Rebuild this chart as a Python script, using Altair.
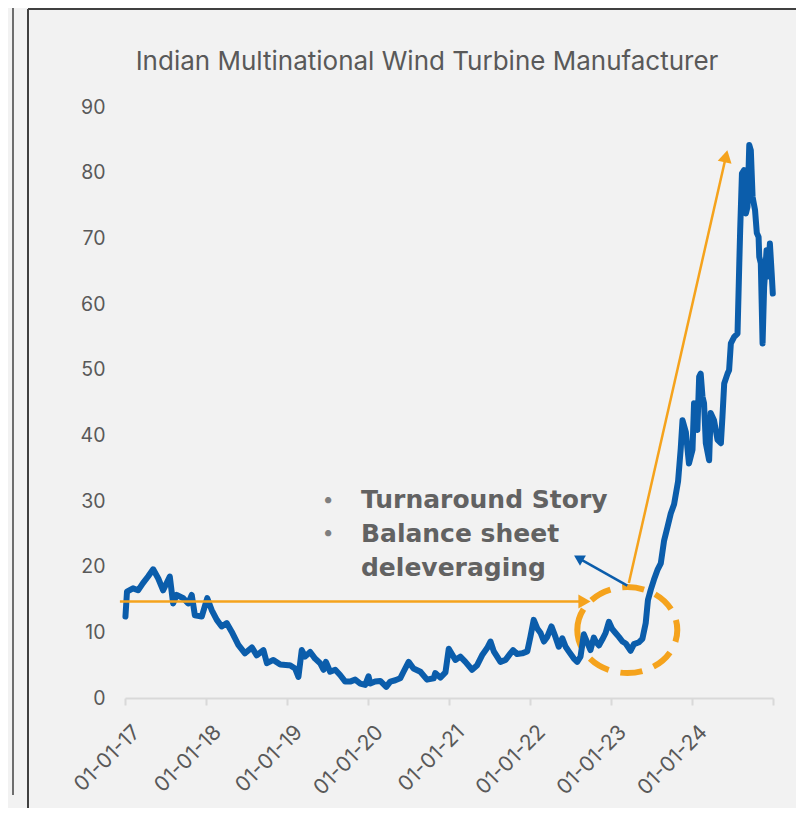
import altair as alt
import pandas as pd

# ---------------- data ----------------
dates = [
    "2017-01-03", "2017-01-10", "2017-02-06", "2017-03-01", "2017-03-23", "2017-04-15",
    "2017-05-08", "2017-05-31", "2017-06-22", "2017-07-22", "2017-08-06", "2017-08-22",
    "2017-09-21", "2017-10-13", "2017-10-29", "2017-11-12", "2017-12-13", "2018-01-07",
    "2018-01-27", "2018-02-19", "2018-03-13", "2018-04-05", "2018-04-27", "2018-05-27",
    "2018-06-26", "2018-07-27", "2018-08-18", "2018-09-17", "2018-10-03", "2018-11-01",
    "2018-12-02", "2019-01-08", "2019-01-15", "2019-02-07", "2019-02-22", "2019-03-09",
    "2019-03-24", "2019-04-16", "2019-05-08", "2019-05-31", "2019-06-15", "2019-06-26",
    "2019-07-15", "2019-08-07", "2019-08-29", "2019-09-21", "2019-10-13", "2019-11-05",
    "2019-11-28", "2019-12-20", "2020-01-04", "2020-01-12", "2020-02-03", "2020-02-26",
    "2020-03-24", "2020-04-11", "2020-05-04", "2020-05-26", "2020-06-10", "2020-07-03",
    "2020-07-25", "2020-08-25", "2020-09-24", "2020-10-24", "2020-10-31", "2020-11-23",
    "2020-12-16", "2020-12-31", "2021-01-30", "2021-02-21", "2021-03-16", "2021-04-15",
    "2021-05-08", "2021-05-30", "2021-06-22", "2021-07-07", "2021-07-22", "2021-08-21",
    "2021-09-13", "2021-10-05", "2021-10-17", "2021-11-04", "2021-11-27", "2021-12-20",
    "2022-01-03", "2022-01-18", "2022-02-03", "2022-02-18", "2022-03-05", "2022-03-20",
    "2022-04-08", "2022-04-26", "2022-05-11", "2022-05-27", "2022-06-11", "2022-06-25",
    "2022-07-18", "2022-08-02", "2022-08-17", "2022-09-01", "2022-09-17", "2022-10-01",
    "2022-10-16", "2022-10-25", "2022-11-08", "2022-11-23", "2022-12-08", "2022-12-23",
    "2023-01-07", "2023-01-22", "2023-02-06", "2023-02-22", "2023-03-09", "2023-03-31",
    "2023-04-15", "2023-05-08", "2023-05-23", "2023-06-07", "2023-06-17", "2023-06-30",
    "2023-07-14", "2023-07-30", "2023-08-14", "2023-08-29", "2023-09-13", "2023-09-28",
    "2023-10-13", "2023-10-31", "2023-11-12", "2023-11-20", "2023-12-05", "2023-12-19",
    "2024-01-04", "2024-01-11", "2024-01-26", "2024-02-03", "2024-02-10", "2024-02-18",
    "2024-02-25", "2024-03-04", "2024-03-19", "2024-03-26", "2024-04-10", "2024-04-26",
    "2024-05-11", "2024-05-18", "2024-05-26", "2024-06-10", "2024-06-17", "2024-06-25",
    "2024-07-10", "2024-07-25", "2024-08-02", "2024-08-06", "2024-08-14", "2024-08-24",
    "2024-09-01", "2024-09-08", "2024-09-16", "2024-09-23", "2024-10-01", "2024-10-12",
    "2024-10-20", "2024-10-28", "2024-10-31", "2024-11-07", "2024-11-15", "2024-11-22",
    "2024-12-03", "2024-12-10", "2024-12-18", "2024-12-26", "2024-12-31",
]
prices = [
    12.4, 16.2, 16.7, 16.4, 17.5, 18.5,
    19.6, 18.2, 16.4, 18.5, 14.4, 15.7,
    15.2, 14.4, 15.7, 12.6, 12.4, 15.2,
    13.4, 11.9, 10.9, 11.4, 10.1, 8.1,
    6.8, 7.7, 6.5, 7.3, 5.3, 5.8,
    5.1, 5.0, 5.0, 4.5, 3.2, 7.3,
    6.3, 7.0, 6.0, 5.3, 4.3, 5.5,
    4.0, 4.3, 3.5, 2.5, 2.5, 2.8,
    2.2, 2.0, 3.3, 2.2, 2.5, 2.6,
    1.7, 2.5, 2.7, 3.0, 4.0, 5.5,
    4.5, 4.0, 2.8, 3.0, 3.8, 3.1,
    3.9, 7.5, 5.8, 6.3, 5.5, 4.3,
    5.0, 6.5, 7.6, 8.6, 7.1, 5.5,
    5.8, 6.8, 7.3, 6.7, 6.8, 7.1,
    9.3, 11.9, 10.6, 9.9, 8.6, 9.3,
    10.9, 9.3, 7.8, 9.1, 7.8, 7.1,
    6.0, 5.5, 6.3, 9.7, 8.4, 7.3,
    9.2, 8.6, 8.0, 8.9, 9.9, 11.6,
    10.5, 9.9, 9.3, 8.6, 8.3, 7.2,
    8.2, 8.5, 9.0, 11.4, 14.9, 16.5,
    18.0, 19.5, 20.5, 24.0, 26.0, 28.1,
    29.5, 33.0, 38.0, 42.3, 40.5, 35.7,
    37.8, 44.9, 40.8, 48.9, 49.4, 45.9,
    44.9, 38.8, 36.2, 43.4, 42.3, 39.3,
    38.8, 42.8, 47.9, 49.4, 49.9, 54.0,
    55.0, 55.5, 66.2, 71.3, 79.9, 80.4,
    73.8, 74.8, 84.2, 83.4, 76.3, 74.3,
    70.8, 70.2, 67.2, 66.2, 54.0, 62.6,
    68.2, 64.2, 69.2, 64.7, 61.6,
]

title_text = "Indian Multinational Wind Turbine Manufacturer"
tick_years = [2017, 2018, 2019, 2020, 2021, 2022, 2023, 2024, 2025]
y_ticks = [0, 10, 20, 30, 40, 50, 60, 70, 80, 90]

# annotation anchors (data coordinates)
note_lines = ["Turnaround Story", "Balance sheet", "deleveraging"]
note_dates = ["2019-12-01", "2019-12-01", "2019-12-01"]
note_values = [28.9, 23.8, 18.6]
bullet_dates = ["2019-07-06", "2019-07-06"]
bullet_values = [30.2, 25.1]

h_arrow = {"d1": "2016-12-09", "d2": "2022-09-04", "v": 14.7}
d_arrow = {"d1": "2023-03-23", "v1": 17.5, "d2": "2024-06-03", "v2": 82.5}
b_arrow = {"d1": "2023-03-16", "v1": 17.1, "d2": "2022-08-08", "v2": 21.3}
ellipse_center = {"d": "2023-03-16", "v": 10.35}

# ---------------- styling ----------------
BLUE = "#0b5dab"
ORANGE = "#f5a31d"
GREY = "#595959"
FONT = "Inter"

x_scale = alt.Scale(
    type="utc",
    domain=[alt.DateTime(year=2017, month=1, date=1, utc=True),
            alt.DateTime(year=2025, month=1, date=1, utc=True)],
)
y_scale = alt.Scale(domain=[0, 90], nice=False)

x_axis = alt.Axis(
    values=[alt.DateTime(year=y, month=1, date=1, utc=True) for y in tick_years],
    labelExpr="utcyear(datum.value) >= 2025 ? '' : utcFormat(datum.value, '%d-%m-%y')",
    labelAngle=-45, labelFontSize=21, labelColor=GREY, labelFont=FONT,
    domainColor="#d9d9d9", domainWidth=2, tickColor="#d9d9d9", tickWidth=2,
    tickSize=7, grid=False, title=None, labelPadding=16, labelOffset=4,
)
y_axis = alt.Axis(
    values=y_ticks, grid=False, domain=False, ticks=False, title=None,
    labelFontSize=19.5, labelColor=GREY, labelFont=FONT, labelPadding=20,
)

df = pd.DataFrame({"date": dates, "price": prices})

line = alt.Chart(df).mark_line(
    color=BLUE, strokeWidth=6, strokeJoin="round", strokeCap="round"
).encode(
    x=alt.X("date:T", scale=x_scale, axis=x_axis),
    y=alt.Y("price:Q", scale=y_scale, axis=y_axis),
)

X = lambda f: alt.X(f, type="temporal", scale=x_scale)
Y = lambda f: alt.Y(f, type="quantitative", scale=y_scale)

ell_df = pd.DataFrame([ellipse_center])
ellipse = alt.Chart(ell_df).mark_point(
    shape="M -1 0 A 1 0.86 0 1 1 1 0 A 1 0.86 0 1 1 -1 0 Z",
    size=10000, filled=False, strokeWidth=6, strokeDash=[22, 12],
    color=ORANGE, opacity=1,
).encode(x=X("d"), y=Y("v"))

h_df = pd.DataFrame([h_arrow])
h_shaft = alt.Chart(h_df).mark_rule(color=ORANGE, strokeWidth=2.5).encode(
    x=X("d1"), x2="d2", y=Y("v"))
h_head = alt.Chart(h_df).mark_point(
    shape="triangle-right", filled=True, size=200, color=ORANGE, opacity=1
).encode(x=X("d2"), y=Y("v"))

d_df = pd.DataFrame([d_arrow])
d_shaft = alt.Chart(d_df).mark_rule(color=ORANGE, strokeWidth=2.5).encode(
    x=X("d1"), x2="d2", y=Y("v1"), y2="v2")
d_head = alt.Chart(d_df).mark_point(
    shape="triangle-up", filled=True, size=200, angle=12.8, color=ORANGE, opacity=1
).encode(x=X("d2"), y=Y("v2"))

b_df = pd.DataFrame([b_arrow])
b_shaft = alt.Chart(b_df).mark_rule(color=BLUE, strokeWidth=2.5).encode(
    x=X("d1"), x2="d2", y=Y("v1"), y2="v2")
b_head = alt.Chart(b_df).mark_point(
    shape="triangle-up", filled=True, size=140, angle=300, color=BLUE, opacity=1
).encode(x=X("d2"), y=Y("v2"))

notes_df = pd.DataFrame({"d": note_dates, "v": note_values, "t": note_lines})
notes = alt.Chart(notes_df).mark_text(
    align="left", baseline="alphabetic", fontSize=25, fontWeight="bold",
    font="DejaVu Sans", color="#626262",
).encode(x=X("d"), y=Y("v"), text="t:N")

bul_df = pd.DataFrame({"d": bullet_dates, "v": bullet_values})
bullets = alt.Chart(bul_df).mark_text(
    align="center", baseline="middle", fontSize=20, font=FONT, color="#7f7f7f",
    text="•",
).encode(x=X("d"), y=Y("v"))

# chart title (placed as text above the plot)
title_df = pd.DataFrame({"t": [title_text]})
title = alt.Chart(title_df).mark_text(
    align="center", baseline="alphabetic", fontSize=26, font=FONT,
    fontWeight="normal", color=GREY,
).encode(x=alt.value(302), y=alt.value(-37), text="t:N")

# decorative frame like the screenshot
frame_top = alt.Chart(h_df).mark_rule(color="#404040", strokeWidth=2).encode(
    x=alt.value(-97), x2=alt.value(700), y=alt.value(-98))
frame_left = alt.Chart(h_df).mark_rule(color="#404040", strokeWidth=2).encode(
    x=alt.value(-97), y=alt.value(-98), y2=alt.value(720))
outer_left = alt.Chart(h_df).mark_rule(color="#404040", strokeWidth=1.5).encode(
    x=alt.value(-112), y=alt.value(-110), y2=alt.value(688))

chart = alt.layer(
    frame_top, frame_left, outer_left, title,
    ellipse, line, h_shaft, h_head, d_shaft, d_head, b_shaft, b_head, bullets, notes,
).properties(
    width=648, height=591,
    autosize=alt.AutoSizeParams(type="none"),
    padding={"left": 117, "top": 99, "right": 23, "bottom": 110},
).configure(
    background="#f2f2f2",
).configure_view(
    stroke=None,
)

chart.save("out.html", embed_options={"renderer": "svg", "actions": False})
